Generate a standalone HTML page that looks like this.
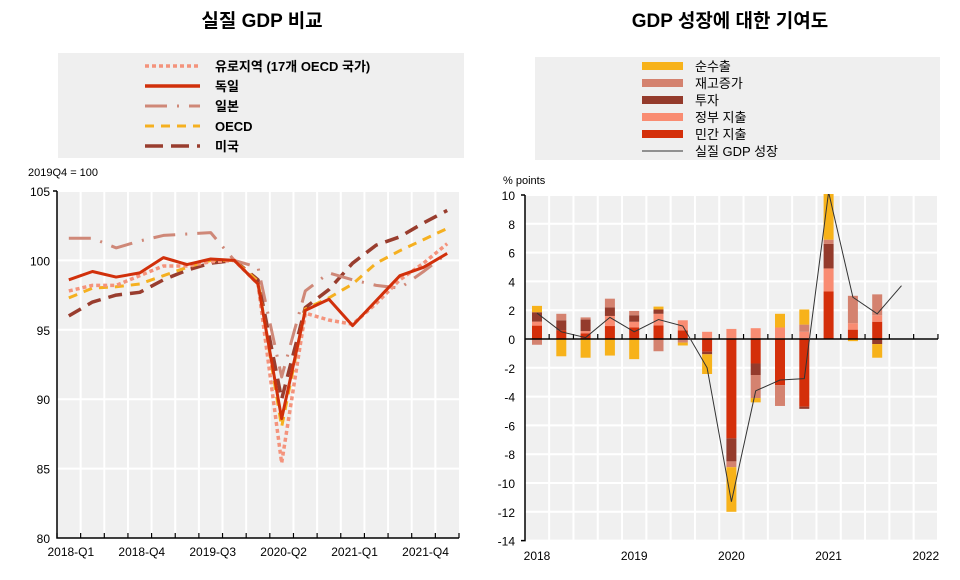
<!DOCTYPE html>
<html><head><meta charset="utf-8">
<style>
body{margin:0;background:#fff;width:960px;height:575px;overflow:hidden;font-family:"Liberation Sans","Noto Sans CJK KR",sans-serif;}
svg text{font-family:"Liberation Sans","Noto Sans CJK KR",sans-serif;}
</style></head>
<body>
<svg id="s" width="960" height="575" xmlns="http://www.w3.org/2000/svg">
<text x="262" y="27" text-anchor="middle" font-size="19" font-weight="bold" fill="#000">실질 GDP 비교</text>
<text x="730" y="27" text-anchor="middle" font-size="19" font-weight="bold" fill="#000">GDP 성장에 대한 기여도</text>
<g id="L"></g><g id="R"></g>
</svg>
<script>
// ---- Left chart data ----
const quarters=["2018-Q1","2018-Q2","2018-Q3","2018-Q4","2019-Q1","2019-Q2","2019-Q3","2019-Q4","2020-Q1","2020-Q2","2020-Q3","2020-Q4","2021-Q1","2021-Q2","2021-Q3","2021-Q4","2022-Q1"];
const xLabelsL=["2018-Q1","2018-Q4","2019-Q3","2020-Q2","2021-Q1","2021-Q4"];
const yTicksL=[80,85,90,95,100,105];
const euro=[97.8,98.2,98.2,98.9,99.6,99.6,99.9,100,98.3,85.4,96.2,95.7,95.4,96.9,98.6,99.8,101.2];
const germany=[98.6,99.2,98.8,99.1,100.2,99.7,100.1,100,98.3,88.6,96.4,97.2,95.3,97.1,98.9,99.5,100.5];
const japan=[101.6,101.6,100.9,101.4,101.8,101.9,102,100,99.5,91.6,97.8,99.1,98.6,98.2,98.0,99.2,100.5];
const oecd=[97.3,98,98.1,98.3,98.9,99.5,100,100,98.5,88,96.5,97.3,98.3,99.8,100.7,101.5,102.3];
const usa=[96,97,97.5,97.7,98.6,99.3,99.8,100,98.6,90,96.6,97.9,99.8,101.1,101.7,102.7,103.6];
// ---- Right chart data ----
const yearLabels=["2018","2019","2020","2021","2022"];
const yTicksR=[10,8,6,4,2,0,-2,-4,-6,-8,-10,-12,-14];
const privateC=[0.93,0.6,0.4,0.9,0.8,0.95,0.6,-0.88,-6.9,-1.7,-3.2,-4.7,3.3,0.65,1.2];
const govC=[0.28,0,0.15,0.7,0.4,0.8,0.7,0.5,0.7,0.75,0.8,0.5,1.6,0.45,0.45];
const investC=[0.65,0.7,0.8,0.6,0.45,0.3,0,-0.18,-1.6,-0.8,0,-0.15,1.7,0,-0.35];
const inventC=[-0.4,0.45,0.15,0.6,0.3,-0.85,-0.25,0,-0.4,-1.6,-1.45,0.5,0.3,1.9,1.45];
const netExpC=[0.44,-1.2,-1.3,-1.15,-1.4,0.2,-0.2,-1.37,-3.1,-0.3,0.95,1.05,3.5,-0.15,-0.95];
const gdpGrowth=[1.8,0.5,0.1,1.5,0.5,1.35,0.9,-2.0,-11.3,-3.6,-2.85,-2.75,10.2,2.9,1.75,3.7];

const NS="http://www.w3.org/2000/svg";
function mk(tag,attrs,parent,txt){const e=document.createElementNS(NS,tag);for(const k in attrs)e.setAttribute(k,attrs[k]);if(txt!==undefined)e.textContent=txt;parent.appendChild(e);return e;}

// ===== LEFT =====
const L=document.getElementById('L');
const lx0=57,lx1=459,ly=v=>538-(v-80)*(347/25);
const lbw=(lx1-lx0)/quarters.length;
const lx=i=>lx0+lbw*(i+0.5);
let bg=mk('rect',{x:lx0,y:ly(105),width:lx1-lx0,height:ly(80)-ly(105),fill:'#f0f0f0'},L);

for(let i=1;i<quarters.length;i++){let g=mk('line',{x1:lx0+lbw*i,x2:lx0+lbw*i,y1:ly(105),y2:ly(80),stroke:'#fff','stroke-width':2},L);
}
yTicksL.forEach(v=>{if(v>80){let g=mk('line',{x1:lx0,x2:lx1,y1:ly(v),y2:ly(v),stroke:'#fff','stroke-width':2},L);
}
let t=mk('text',{x:50,y:ly(v)+5,'text-anchor':'end','font-size':12,fill:'#000'},L,v);
});
let ax=mk('path',{d:`M${lx0},${ly(105)}V${ly(80)}H${lx1}M${lx0},${ly(105)}h-4`,stroke:'#000','stroke-width':1.5,fill:'none'},L);

for(let i=0;i<=quarters.length;i++){let t=mk('line',{x1:lx0+lbw*i,x2:lx0+lbw*i,y1:ly(80),y2:ly(80)-5,stroke:'#000','stroke-width':1.2},L);
}
xLabelsL.forEach(lab=>{const i=quarters.indexOf(lab);let t=mk('text',{x:lx(i)+2,y:556,'text-anchor':'middle','font-size':12,fill:'#000'},L,lab);
});
let un=mk('text',{x:28,y:176,'font-size':11,fill:'#000'},L,'2019Q4 = 100');

const seriesL=[
 {d:usa,c:'#993d2e',w:3.5,da:'14,8',n:'us-line'},
 {d:japan,c:'#cf8878',w:3,da:'22,10,2,10',n:'japan-line'},
 {d:oecd,c:'#f5b020',w:3,da:'9,7',n:'oecd-line'},
 {d:euro,c:'#f4937c',w:3.5,da:'4,3',n:'euro-area-line'},
 {d:germany,c:'#d1300b',w:3,da:'',n:'germany-line'}];
seriesL.forEach(s=>{let p=mk('polyline',{points:s.d.map((v,i)=>lx(i)+','+ly(v)).join(' '),fill:'none',stroke:s.c,'stroke-width':s.w,'stroke-dasharray':s.da,'stroke-linejoin':'round'},L);
});
// left legend
let lg=mk('rect',{x:58,y:53,width:406,height:105,fill:'#efefef'},L);

const legL=[['유로지역 (17개 OECD 국가)','#f4937c','4,3',3.5],['독일','#d1300b','',3.5],['일본','#cf8878','22,10,2,10',3],['OECD','#f5b020','9,7',3],['미국','#993d2e','18,8',3.5]];
legL.forEach((e,k)=>{const y=66+k*20;
let l=mk('line',{x1:145,x2:200,y1:y,y2:y,stroke:e[1],'stroke-width':e[3],'stroke-dasharray':e[2]},L);

let t=mk('text',{x:215,y:y+5,'font-size':13,'font-weight':'bold',fill:'#000'},L,e[0]);
});

// ===== RIGHT =====
const R=document.getElementById('R');
const rx0=525,rx1=938,ry=v=>339-v*14.4;
const rbw=24.3, rx=i=>537+rbw*i;
let bg2=mk('rect',{x:rx0,y:ry(10),width:rx1-rx0,height:ry(-14)-ry(10),fill:'#f0f0f0'},R);

for(let i=0;i<17;i++){const x=rx(i)+rbw/2;let g=mk('line',{x1:x,x2:x,y1:ry(10),y2:ry(-14),stroke:'#fff','stroke-width':2},R);
}
yTicksR.forEach(v=>{let g=mk('line',{x1:rx0,x2:rx1,y1:ry(v),y2:ry(v),stroke:'#fff','stroke-width':2},R);

let t=mk('text',{x:515,y:ry(v)+5,'text-anchor':'end','font-size':12,fill:'#000'},R,v);
});
yearLabels.forEach((y,k)=>{let t=mk('text',{x:rx(k*4),y:560,'text-anchor':'middle','font-size':12,fill:'#000'},R,y);
});
let pu=mk('text',{x:503,y:184,'font-size':11,fill:'#000'},R,'% points');

// stacked bars
const comps=[[privateC,'#d42f0a','bar-private-consumption'],[govC,'#f98c72','bar-government'],[investC,'#943b2c','bar-investment'],[inventC,'#d4826f','bar-inventory'],[netExpC,'#f7b21a','bar-net-exports']];
const clip=mk('clipPath',{id:'rc'},R);mk('rect',{x:rx0,y:ry(10)-1,width:rx1-rx0,height:ry(-14)-ry(10)+2},clip);
const bars=mk('g',{'clip-path':'url(#rc)'},R);
for(let i=0;i<privateC.length;i++){let pos=0,neg=0;
comps.forEach(c=>{const v=c[0][i];if(!v)return;let a,b;if(v>0){a=pos;b=pos+v;pos=b;}else{a=neg;b=neg+v;neg=b;}
let r=mk('rect',{x:rx(i)-5,width:10,y:ry(Math.max(a,b)),height:Math.abs(ry(a)-ry(b)),fill:c[1]},bars);
});}
let ax2=mk('path',{d:`M${rx0},${ry(10)}h-4M${rx0},${ry(10)}V${ry(-14)}h-4`,stroke:'#000','stroke-width':1.5,fill:'none'},R);

let zl=mk('line',{x1:rx0,x2:rx1,y1:ry(0),y2:ry(0),stroke:'#000','stroke-width':1.5},R);

for(let i=0;i<17;i++){const x=rx(i)+rbw/2;let t=mk('line',{x1:x,x2:x,y1:ry(0),y2:ry(0)-5,stroke:'#000','stroke-width':1.2},R);
}
let gl=mk('polyline',{points:gdpGrowth.map((v,i)=>rx(i)+','+ry(v)).join(' '),fill:'none',stroke:'#333','stroke-width':1,'clip-path':'url(#rc)'},R);

// right legend
let lg2=mk('rect',{x:535,y:57,width:405,height:103,fill:'#efefef'},R);

const legR=[['순수출','#f7b21a'],['재고증가','#d4826f'],['투자','#943b2c'],['정부 지출','#f98c72'],['민간 지출','#d42f0a']];
legR.forEach((e,k)=>{const y=66+k*17;
let r=mk('rect',{x:642,y:y-4,width:41,height:8,fill:e[1]},R);

let t=mk('text',{x:695,y:y+5,'font-size':13,fill:'#000'},R,e[0]);
});
let ll=mk('line',{x1:642,x2:683,y1:151,y2:151,stroke:'#333','stroke-width':1},R);

let lt=mk('text',{x:695,y:156,'font-size':13,fill:'#000'},R,'실질 GDP 성장');

</script>
</body></html>
